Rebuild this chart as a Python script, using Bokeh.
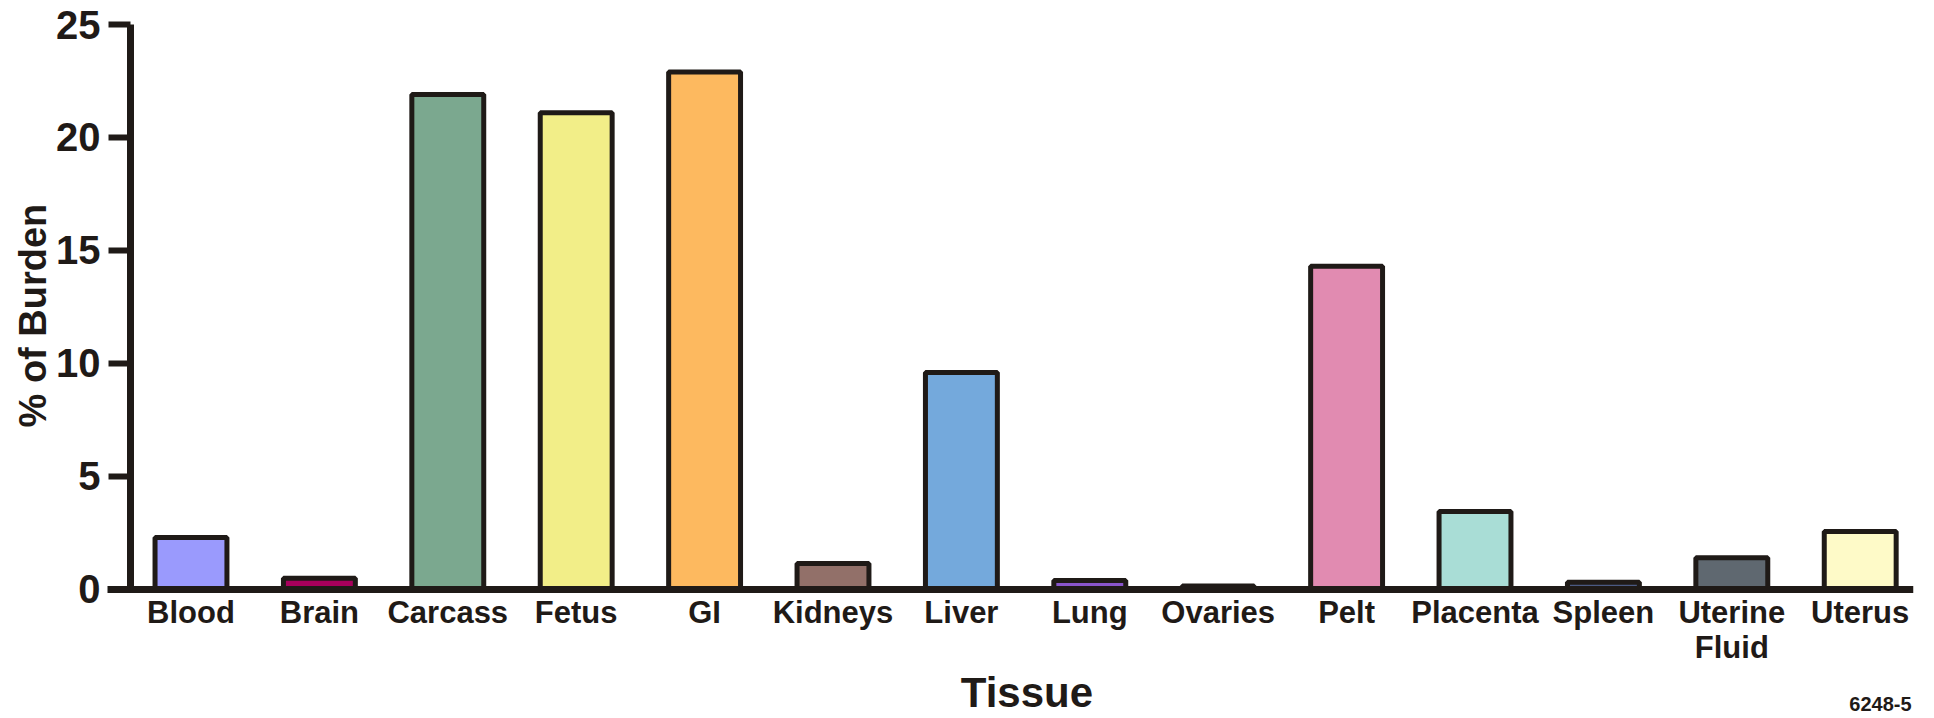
import math
from bokeh.plotting import figure
from bokeh.models import ColumnDataSource, FixedTicker, Label
from bokeh.embed import file_html
from bokeh.resources import INLINE

# ---- data ----
tissues = ["Blood", "Brain", "Carcass", "Fetus", "GI", "Kidneys", "Liver",
           "Lung", "Ovaries", "Pelt", "Placenta", "Spleen", "Uterine\nFluid", "Uterus"]
burden = [2.3, 0.5, 21.9, 21.1, 22.9, 1.15, 9.6, 0.4, 0.15, 14.3, 3.45, 0.32, 1.4, 2.57]
colors = ["#9A9AFD", "#A8005C", "#7BA88F", "#F2EE88", "#FDB95F", "#927069", "#74A9DC",
          "#8955CB", "#6A6A6A", "#E18BB1", "#A9DDD6", "#4B5A82", "#5F6870", "#FEFAC8"]
y_ticks = [0, 5, 10, 15, 20, 25]

FONT = "Liberation Sans"
INK = "#1F1A17"
AXIS_X = -0.471   # where the value axis crosses the category axis

idx = list(range(len(tissues)))
src = ColumnDataSource(dict(x=idx, top=burden, color=colors))

p = figure(width=1930, height=716, output_backend="svg", toolbar_location=None,
           x_range=(-1.4835, 13.415), y_range=(-5.62, 26.062),
           min_border_left=0, min_border_right=17, min_border_top=0, min_border_bottom=0)
p.outline_line_color = None
p.grid.grid_line_color = None
p.background_fill_color = "white"

p.vbar(x="x", top="top", width=0.56, source=src, fill_color="color",
       line_color=INK, line_width=5)

# y axis, drawn at AXIS_X inside the frame
ya = p.yaxis[0]
ya.fixed_location = AXIS_X
ya.ticker = FixedTicker(ticks=y_ticks)
ya.bounds = (0, 25)
ya.axis_line_width = 7
ya.axis_line_color = INK
ya.major_tick_line_width = 6
ya.major_tick_line_color = INK
ya.major_tick_out = 22
ya.major_tick_in = 0
ya.minor_tick_line_color = None
ya.major_label_text_font = FONT
ya.major_label_text_font_style = "bold"
ya.major_label_text_font_size = "40px"
ya.major_label_text_color = INK
ya.major_label_standoff = 8

# x axis, drawn at y = 0 inside the frame
xa = p.xaxis[0]
xa.fixed_location = 0
xa.bounds = (AXIS_X - 0.18, 13.415)
xa.ticker = FixedTicker(ticks=idx)
xa.major_label_overrides = {i: t for i, t in zip(idx, tissues)}
xa.axis_line_width = 7
xa.axis_line_color = INK
xa.major_tick_line_color = None
xa.major_tick_out = 0
xa.major_tick_in = 0
xa.minor_tick_line_color = None
xa.major_label_text_font = FONT
xa.major_label_text_font_style = "bold"
xa.major_label_text_font_size = "31px"
xa.major_label_text_color = INK
xa.major_label_text_line_height = 1.0
xa.major_label_standoff = 6

# axis titles and figure code
p.add_layout(Label(x=-1.2265, y=12.12, text="% of Burden", angle=math.pi / 2,
                   text_align="center", text_baseline="middle", text_font=FONT,
                   text_font_style="bold", text_font_size="38px", text_color=INK))
p.add_layout(Label(x=6.51, y=-4.58, text="Tissue", text_align="center",
                   text_baseline="middle", text_font=FONT, text_font_style="bold",
                   text_font_size="42px", text_color=INK))
p.add_layout(Label(x=13.40, y=-5.08, text="6248-5", text_align="right",
                   text_baseline="middle", text_font=FONT, text_font_style="bold",
                   text_font_size="20px", text_color=INK))

open("out.html", "w").write(file_html(p, INLINE))
